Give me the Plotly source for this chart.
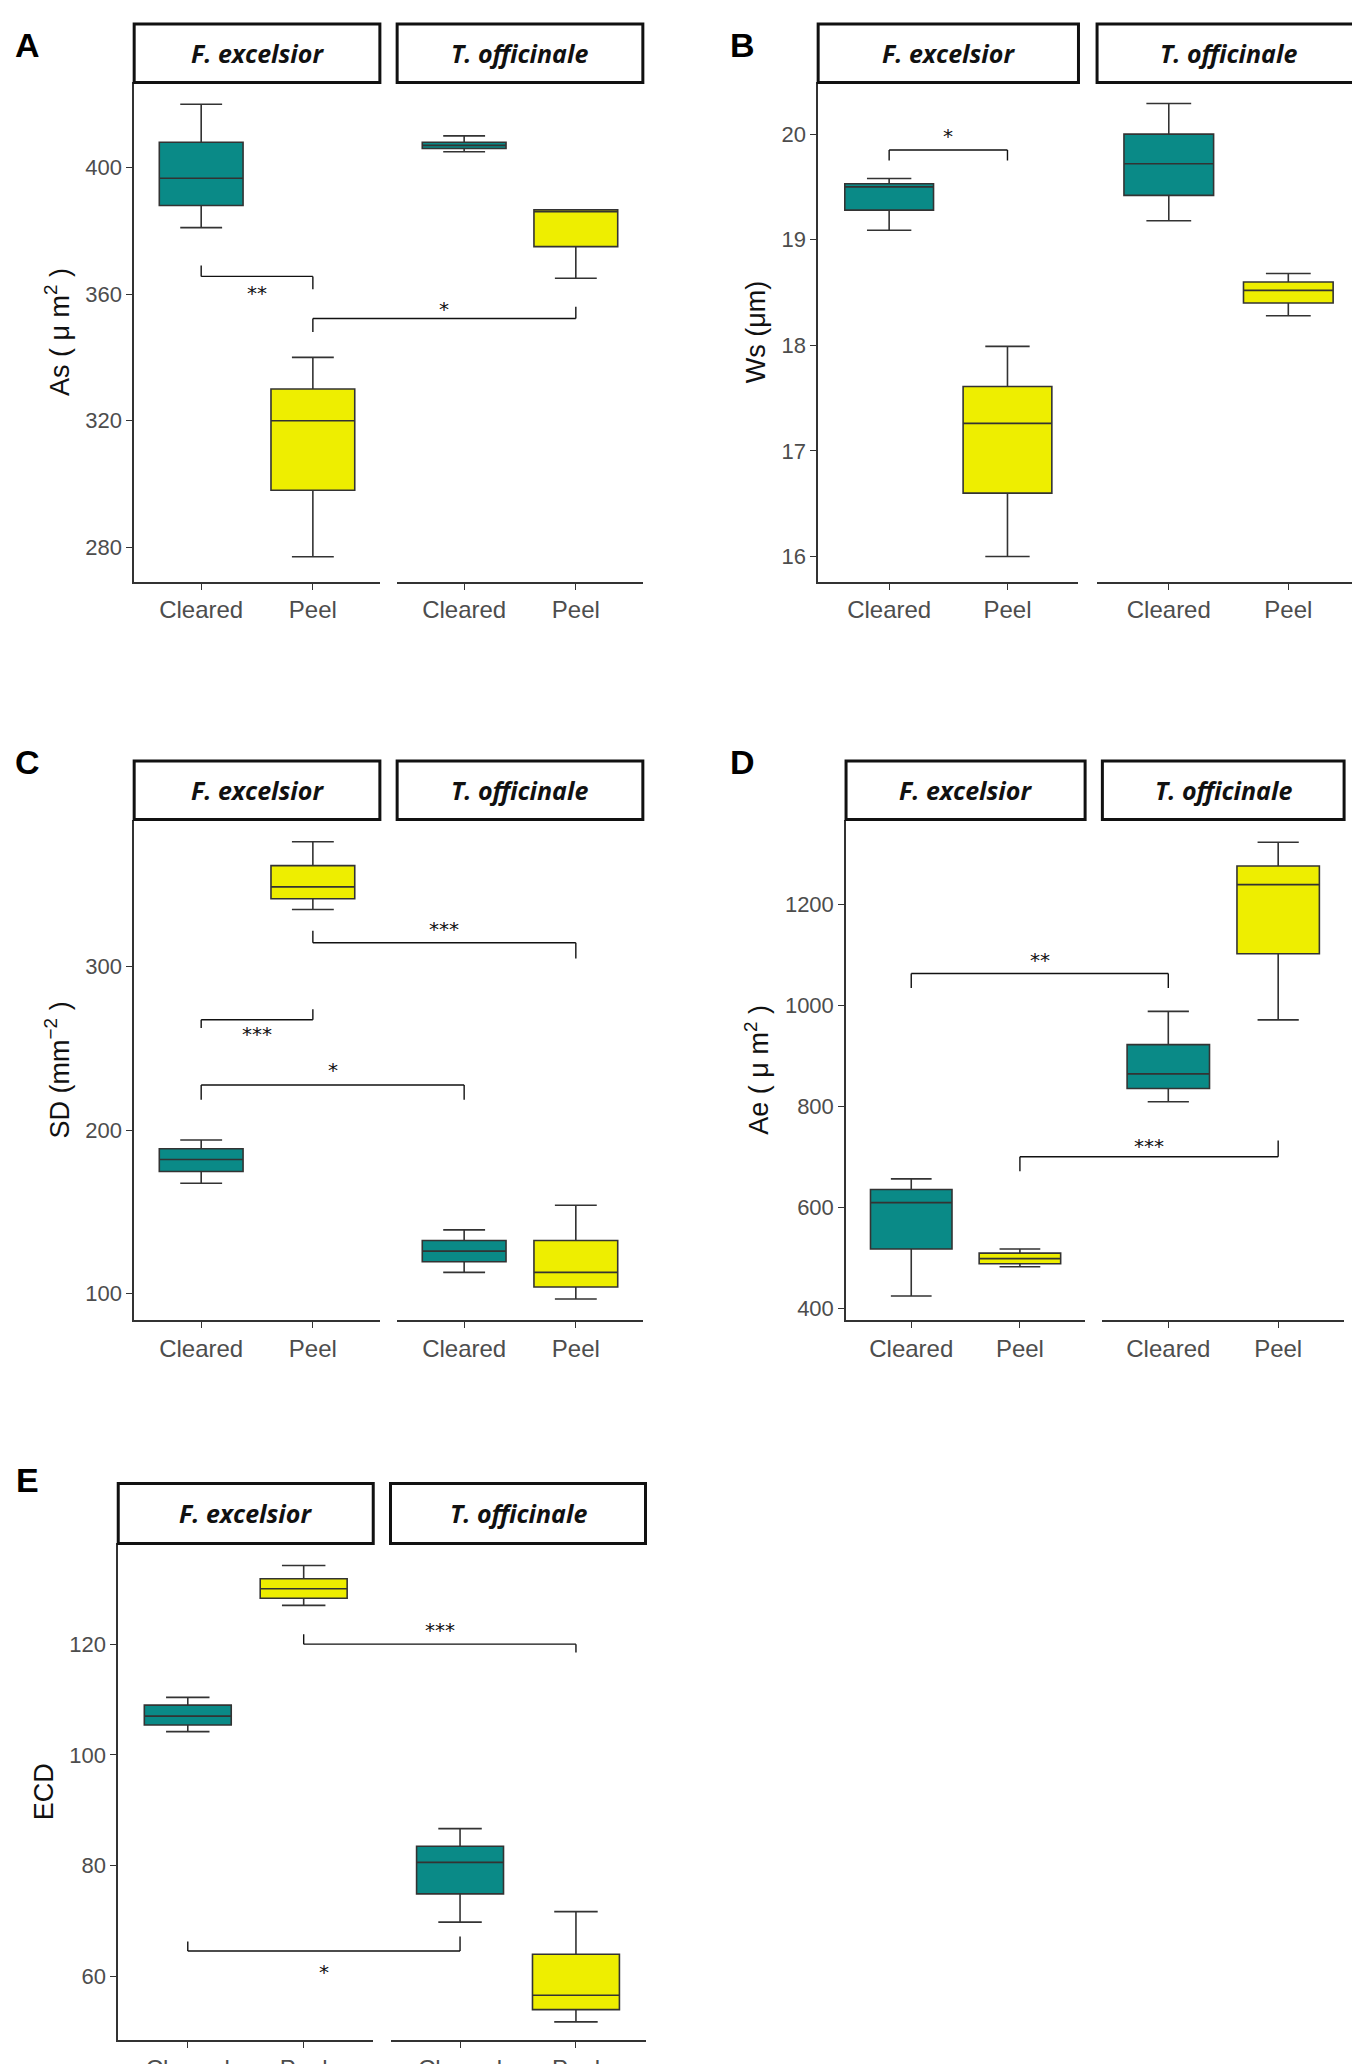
import plotly.graph_objects as go

W, H = 1360, 2064
SX, SY = 1024.0, 1554.0  # design coordinate space

categories = ["Cleared", "Peel"]
species = ["F. excelsior", "T. officinale"]
TEAL, YEL = "#0A8A87", "#EEEE00"

# box statistics per panel: [lower, q1, median, q3, upper] per species per category
A_stats = {"F. excelsior": [[381, 388, 396.6, 408, 420], [277, 298, 320, 330, 340]],
           "T. officinale": [[405, 406, 407, 408, 410], [365, 375, 386, 386.6, 386.6]]}
B_stats = {"F. excelsior": [[19.09, 19.28, 19.5, 19.53, 19.58], [16.0, 16.6, 17.26, 17.61, 17.99]],
           "T. officinale": [[19.18, 19.42, 19.72, 20.0, 20.29], [18.28, 18.4, 18.52, 18.6, 18.68]]}
C_stats = {"F. excelsior": [[167.5, 174.7, 182, 188.6, 194], [335, 341.5, 348.8, 361.8, 376.4]],
           "T. officinale": [[113, 119.5, 126, 132.5, 139], [96.7, 104, 113, 132.5, 154]]}
D_stats = {"F. excelsior": [[424, 517, 609, 635, 656], [482, 488, 498, 509, 517]],
           "T. officinale": [[809, 835, 864, 922, 988], [971, 1102, 1239, 1276, 1323]]}
E_stats = {"F. excelsior": [[104.2, 105.4, 107, 109, 110.4], [127, 128.3, 130, 131.8, 134.2]],
           "T. officinale": [[69.8, 74.9, 80.6, 83.5, 86.7], [51.8, 54, 56.6, 64, 71.7]]}

# brackets: (from (species idx, cat idx), to (species idx, cat idx), y, left tip, right tip, label, label y)
A_br = [((0, 0), (0, 1), 365.6, 369, 361.5, "**", 360.5), ((0, 1), (1, 1), 352.3, 348, 356, "*", 355.2)]
B_br = [((0, 0), (0, 1), 19.85, 19.75, 19.75, "*", 19.98)]
C_br = [((0, 1), (1, 1), 314.6, 322, 305, "***", 323),
        ((0, 0), (0, 1), 267.5, 262.5, 274, "***", 259),
        ((0, 0), (1, 0), 227.6, 218.6, 218.6, "*", 237)]
D_br = [((0, 0), (1, 0), 1063, 1034, 1034, "**", 1090), ((0, 1), (1, 1), 700, 671, 732, "***", 722)]
E_br = [((0, 1), (1, 1), 120, 121.8, 118.5, "***", 122.5), ((0, 0), (1, 0), 64.6, 66.3, 67.2, "*", 60.8)]

panels = [
    dict(letter="A", stats=A_stats, br=A_br, yr=[269.1, 426.9], ticks=[280, 320, 360, 400],
         title="As ( μ m<sup>2</sup> )", fx=[(95, 280), (293, 478)], strip=(12, 56), plot=(56, 432), lx=15, ly=28),
    dict(letter="B", stats=B_stats, br=B_br, yr=[15.76, 20.49], ticks=[16, 17, 18, 19, 20],
         title="Ws (μm)", fx=[(610, 806), (820, 1018)], strip=(12, 56), plot=(56, 432), lx=553, ly=28),
    dict(letter="C", stats=C_stats, br=C_br, yr=[83.7, 390], ticks=[100, 200, 300],
         title="SD (mm<sup>−2</sup> )", fx=[(95, 280), (293, 478)], strip=(567, 611), plot=(611, 988), lx=15, ly=568),
    dict(letter="D", stats=D_stats, br=D_br, yr=[376, 1368], ticks=[400, 600, 800, 1000, 1200],
         title="Ae ( μ m<sup>2</sup> )", fx=[(631, 811), (824, 1006)], strip=(567, 611), plot=(611, 988), lx=553, ly=568),
    dict(letter="E", stats=E_stats, br=E_br, yr=[48.5, 138.2], ticks=[60, 80, 100, 120],
         title="ECD", fx=[(83, 275), (288, 480)], strip=(1111, 1156), plot=(1156, 1530), lx=15, ly=1108),
]

XR = [-0.6, 1.6]
fig = go.Figure()
shapes, annos = [], []
px = lambda v: v / SX
py = lambda v: 1 - v / SY
ax_i = 0
for p in panels:
    ids = []
    for si, sp in enumerate(species):
        ax_i += 1
        xa = "x" if ax_i == 1 else f"x{ax_i}"
        ya = "y" if ax_i == 1 else f"y{ax_i}"
        ids.append((xa, ya, ax_i))
        x0, x1 = p["fx"][si]
        common_x = dict(domain=[px(x0), px(x1)], range=XR, tickmode="array", tickvals=[0, 1],
                        ticktext=categories, showline=True, linecolor="#333333", linewidth=1.6,
                        ticks="outside", ticklen=6, tickcolor="#333333", showgrid=False, zeroline=False,
                        tickfont=dict(family="Liberation Sans, Arial", size=24, color="#4D4D4D"),
                        anchor=ya, fixedrange=True, automargin=False)
        fig.layout[("xaxis" if ax_i == 1 else f"xaxis{ax_i}")] = common_x
        common_y = dict(domain=[py(p["plot"][1]), py(p["plot"][0])], range=p["yr"], anchor=xa,
                        showgrid=False, zeroline=False, automargin=False)
        if si == 0:
            common_y.update(showline=True, linecolor="#333333", linewidth=1.6, ticks="outside", ticklen=6,
                            tickcolor="#333333", tickvals=p["ticks"],
                            tickfont=dict(family="Liberation Sans, Arial", size=22, color="#4D4D4D"),
                            title=dict(text=p["title"], font=dict(family="Liberation Sans, Arial", size=27, color="#111"),
                                       standoff=8))
        else:
            common_y.update(showticklabels=False, showline=False, matches=ids[0][1])
        fig.layout[("yaxis" if ax_i == 1 else f"yaxis{ax_i}")] = common_y
        for ci, cat in enumerate(categories):
            lo, q1, md, q3, hi = p["stats"][sp][ci]
            fig.add_trace(go.Box(x=[ci], q1=[q1], median=[md], q3=[q3], lowerfence=[lo], upperfence=[hi],
                                 xaxis=xa, yaxis=ya, width=0.75, fillcolor=TEAL if ci == 0 else YEL,
                                 line=dict(color="#333333", width=1.6), showlegend=False, hoverinfo="skip"))
        # strip
        sy0, sy1 = p["strip"]
        shapes.append(dict(type="rect", xref="paper", yref="paper", x0=px(x0), x1=px(x1), y0=py(sy1), y1=py(sy0),
                           line=dict(color="#111", width=3), fillcolor="white"))
        annos.append(dict(xref="paper", yref="paper", x=px((x0 + x1) / 2), y=py((sy0 + sy1) / 2), showarrow=False,
                          xanchor="center", yanchor="middle",
                          text=f"<b><i>{sp}</i></b>", font=dict(family="Open Sans, Arial", size=25, color="#111")))
    # brackets
    def xpaper(si, ci):
        d0, d1 = p["fx"][si]
        return px(d0 + (d1 - d0) * (ci - XR[0]) / (XR[1] - XR[0]))
    yref = ids[0][1]
    for (a, b, yv, tl, tr, lab, ly) in p["br"]:
        xa_, xb_ = xpaper(*a), xpaper(*b)
        for sh in [(xa_, yv, xb_, yv), (xa_, tl, xa_, yv), (xb_, tr, xb_, yv)]:
            shapes.append(dict(type="line", xref="paper", yref=yref, x0=sh[0], y0=sh[1], x1=sh[2], y1=sh[3],
                               line=dict(color="#111", width=1.4)))
        annos.append(dict(xref="paper", yref=yref, x=(xa_ + xb_) / 2, y=ly, text=lab, showarrow=False,
                          xanchor="center", yanchor="middle",
                          font=dict(family="DejaVu Sans", size=20, color="#111")))
    annos.append(dict(xref="paper", yref="paper", x=px(p["lx"]), y=py(p["ly"]), text=f"<b>{p['letter']}</b>",
                      xanchor="center", yanchor="middle",
                      showarrow=False, font=dict(family="Liberation Sans, Arial", size=34, color="#000")))

fig.update_layout(width=W, height=H, margin=dict(l=0, r=0, t=0, b=0), plot_bgcolor="white",
                  paper_bgcolor="white", shapes=shapes, annotations=annos, showlegend=False)
fig.write_html("out.html")
